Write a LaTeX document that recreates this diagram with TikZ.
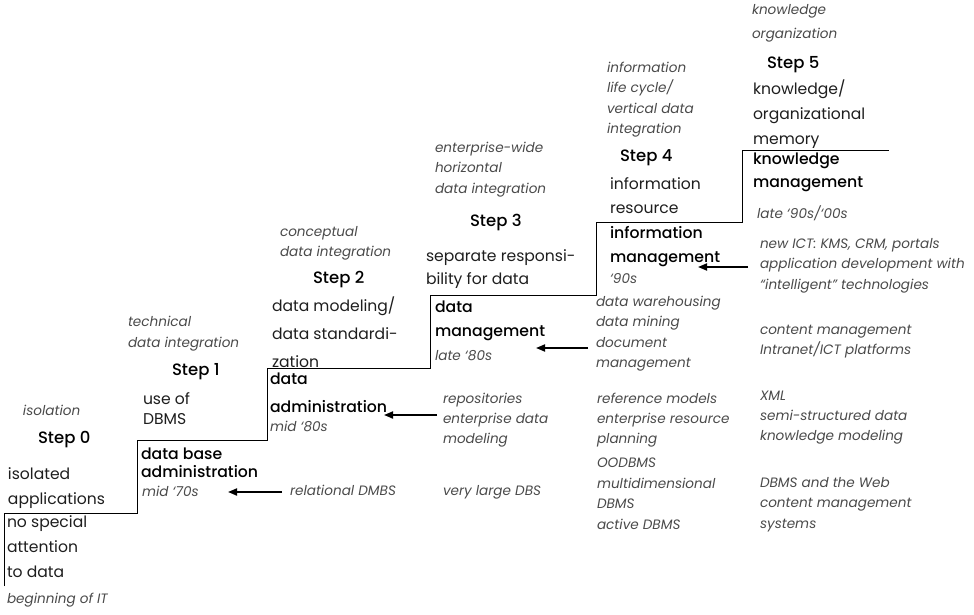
\documentclass[tikz,border=0pt]{standalone}
\usepackage{fontspec}
\setmainfont{Poppins}[BoldFont={Poppins Medium}]
\usetikzlibrary{arrows.meta}
\definecolor{notegray}{HTML}{4A4A4A}
\definecolor{maintxt}{HTML}{1E1E1E}
\begin{document}
\begin{tikzpicture}[x=1pt,y=-1pt,
  every node/.style={inner sep=0pt,outer sep=0pt,anchor=north west,align=left},
  notetxt/.style={font=\fontsize{13.6}{20.5}\selectfont\itshape,text=notegray},
  maintxt/.style={font=\fontsize{15.6}{25}\selectfont,text=maintxt},
  titletxt/.style={font=\fontsize{15.7}{24}\selectfont\bfseries,text=black},
  steptxt/.style={font=\fontsize{16.5}{18}\selectfont\bfseries,text=black},
  stair/.style={line width=1pt,black},
  arr/.style={line width=1.8pt,black,-{Triangle[length=9pt,width=7pt]}}]
\useasboundingbox (0,0) rectangle (974,614);
% staircase
\coordinate (s0) at (4,586);
\coordinate (s1) at (4,513);
\coordinate (s2) at (137,513);
\coordinate (s3) at (137,440);
\coordinate (s4) at (267,440);
\coordinate (s5) at (267,368);
\coordinate (s6) at (430,368);
\coordinate (s7) at (430,295);
\coordinate (s8) at (596,295);
\coordinate (s9) at (596,222);
\coordinate (s10) at (742,222);
\coordinate (s11) at (742,150);
\coordinate (s12) at (889,150);
\draw[stair] (s0) -- (s1) -- (s2) -- (s3) -- (s4) -- (s5) -- (s6) -- (s7) -- (s8) -- (s9) -- (s10) -- (s11) -- (s12);
% Step 0
\node[notetxt] (iso) at (23,405) {isolation};
\node[steptxt] (st0) at (38,431) {Step 0};
\node[maintxt] (isoapp) at (8,468) {isolated\\applications};
\node[maintxt] (nospec) at (7,516) {no special\\attention\\to data};
\node[notetxt] (begin) at (7,593) {beginning of IT};
% Step 1
\node[notetxt,font=\fontsize{13.6}{21.5}\selectfont\itshape] (tech) at (128,316) {technical\\data integration};
\node[steptxt] (st1) at (172,363) {Step 1};
\node[maintxt,font=\fontsize{15.6}{20}\selectfont] (use) at (143,393) {use of\\DBMS};
\node[titletxt,font=\fontsize{15.7}{17.5}\selectfont\bfseries] (dba) at (141,448) {data base\\administration};
\node[notetxt] (m70) at (142,486) {mid ‘70s};
\node[notetxt] (rel) at (290,485) {relational DMBS};
% Step 2
\node[notetxt] (conc) at (280,226) {conceptual\\data integration};
\node[steptxt] (st2) at (313,271) {Step 2};
\node[maintxt,font=\fontsize{15.6}{28}\selectfont] (dmod) at (272,297) {data modeling/\\data standardi-\\zation};
\node[titletxt,font=\fontsize{15.7}{28}\selectfont\bfseries] (da) at (270,373) {data\\administration};
\node[notetxt] (m80) at (270,421) {mid ‘80s};
\node[notetxt,font=\fontsize{13.6}{20}\selectfont\itshape] (repo) at (443,393) {repositories\\enterprise data\\modeling};
\node[notetxt] (vldb) at (443,485) {very large DBS};
% Step 3
\node[notetxt] (ewide) at (435,142) {enterprise-wide\\horizontal\\data integration};
\node[steptxt] (st3) at (470,214) {Step 3};
\node[maintxt,font=\fontsize{15.6}{23}\selectfont] (sep) at (426,250) {separate responsi-\\bility for data};
\node[titletxt] (dm) at (435,301) {data\\management};
\node[notetxt] (l80) at (435,350) {late ‘80s};
\node[notetxt,font=\fontsize{13.6}{20.5}\selectfont\itshape] (dw) at (596,296) {data warehousing\\data mining\\document\\management};
\node[notetxt,font=\fontsize{13.6}{20}\selectfont\itshape] (refm) at (597,393) {reference models\\enterprise resource\\planning};
\node[notetxt] (oodb) at (597,458) {OODBMS\\multidimensional\\DBMS\\active DBMS};
% Step 4
\node[notetxt] (ilc) at (607,62) {information\\life cycle/\\vertical data\\integration};
\node[steptxt] (st4) at (620,150) {Step 4};
\node[maintxt,font=\fontsize{15.6}{23.5}\selectfont] (ires) at (610,178) {information\\resource};
\node[titletxt] (im) at (610,226) {information\\management};
\node[notetxt] (n90) at (610,273) {‘90s};
\node[notetxt,font=\fontsize{13.6}{20.5}\selectfont\itshape] (ict) at (760,238) {new ICT: KMS, CRM, portals\\application development with\\“intelligent” technologies};
\node[notetxt,font=\fontsize{13.6}{20}\selectfont\itshape] (cm) at (760,325) {content management\\Intranet/ICT platforms};
\node[notetxt,font=\fontsize{13.6}{20}\selectfont\itshape] (xml) at (760,391) {XML\\semi-structured data\\knowledge modeling};
\node[notetxt] (web) at (760,477) {DBMS and the Web\\content management\\systems};
% Step 5
\node[notetxt,font=\fontsize{13.6}{24}\selectfont\itshape] (ko) at (752,4) {knowledge\\organization};
\node[steptxt] (st5) at (767,56) {Step 5};
\node[maintxt] (kom) at (753,80) {knowledge/\\organizational\\memory};
\node[titletxt,font=\fontsize{15.7}{23}\selectfont\bfseries] (km) at (753,153) {knowledge\\management};
\node[notetxt] (l90) at (757,206) {late ‘90s/‘00s};
% arrows
\coordinate (a1s) at (282,492); \coordinate (a1e) at (228,492);
\coordinate (a2s) at (437,415); \coordinate (a2e) at (384,415);
\coordinate (a3s) at (588,348); \coordinate (a3e) at (536,348);
\coordinate (a4s) at (748,267); \coordinate (a4e) at (698,267);
\draw[arr] (a1s) -- (a1e);
\draw[arr] (a2s) -- (a2e);
\draw[arr] (a3s) -- (a3e);
\draw[arr] (a4s) -- (a4e);
\end{tikzpicture}
\end{document}
